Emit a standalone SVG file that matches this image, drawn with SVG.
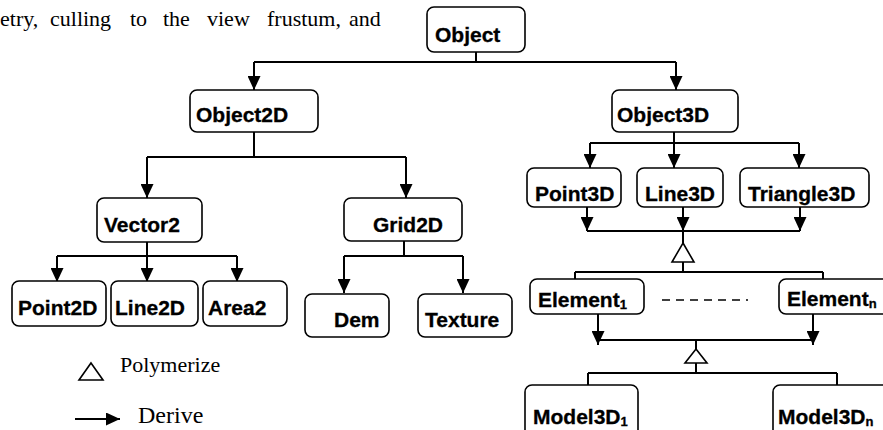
<svg xmlns="http://www.w3.org/2000/svg" width="883" height="430" viewBox="0 0 883 430">
<style>
.box{fill:#fff;stroke:#000;stroke-width:1.6}
.lbl{font-family:"Liberation Sans",Arial,sans-serif;font-weight:bold;font-size:21px;fill:#000;stroke:#000;stroke-width:0.3}
.sub{font-size:13px}
.ln{fill:none;stroke:#000;stroke-width:2}
.arr{fill:none;stroke:#000;stroke-width:2;marker-end:url(#ah)}
.tri{fill:#fff;stroke:#000;stroke-width:1.6}
.serif{font-family:"Liberation Serif","Times New Roman",serif;fill:#000}
</style>
<defs>
<marker id="ah" markerUnits="userSpaceOnUse" markerWidth="14" markerHeight="13" refX="14" refY="6.5" orient="auto">
<path d="M0,0 L14,6.5 L0,13 z" fill="#000"/>
</marker>
</defs>
<rect width="883" height="430" fill="#fff"/>
<text class="serif" font-size="22" y="26"><tspan x="0">etry,</tspan><tspan x="50">culling</tspan><tspan x="130">to</tspan><tspan x="163">the</tspan><tspan x="207">view</tspan><tspan x="267">frustum,</tspan><tspan x="349">and</tspan></text>
<g id="connectors">
<path class="ln" d="M476,52 V62 M254,62 H676"/>
<line class="arr" x1="254" y1="62" x2="254" y2="90"/>
<line class="arr" x1="676" y1="62" x2="676" y2="90"/>
<path class="ln" d="M254,132 V157 M147,157 H406"/>
<line class="arr" x1="147" y1="157" x2="147" y2="198"/>
<line class="arr" x1="406" y1="157" x2="406" y2="198"/>
<path class="ln" d="M147,242 V256 M57,256 H237"/>
<line class="arr" x1="57" y1="256" x2="57" y2="282"/>
<line class="arr" x1="147" y1="256" x2="147" y2="282"/>
<line class="arr" x1="237" y1="256" x2="237" y2="282"/>
<path class="ln" d="M404,241 V256 M344,256 H463"/>
<line class="arr" x1="344" y1="256" x2="344" y2="293"/>
<line class="arr" x1="463" y1="256" x2="463" y2="293"/>
<path class="ln" d="M674,132 V143 M590,143 H799"/>
<line class="arr" x1="590" y1="143" x2="590" y2="168"/>
<line class="arr" x1="674" y1="143" x2="674" y2="168"/>
<line class="arr" x1="799" y1="143" x2="799" y2="168"/>
<line class="arr" x1="587" y1="207" x2="587" y2="231"/>
<line class="arr" x1="683" y1="207" x2="683" y2="231"/>
<line class="arr" x1="800" y1="207" x2="800" y2="231"/>
<path class="ln" d="M587,231 H800 M683,231 V243"/>
<polygon class="tri" points="683,243 694,262 672,262"/>
<path class="ln" d="M683,262 V272 M575,272 H823 M575,272 V279 M823,272 V279"/>
<line x1="662" y1="300" x2="748" y2="300" stroke="#000" stroke-width="1.6" stroke-dasharray="8,6"/>
<line class="arr" x1="598" y1="314" x2="598" y2="345"/>
<line class="arr" x1="813" y1="314" x2="813" y2="345"/>
<path class="ln" d="M598,340 H813 M696,340 V349"/>
<polygon class="tri" points="696,349 707,363 685,363"/>
<path class="ln" d="M696,363 V373 M588,373 H837 M588,373 V385 M837,373 V385"/>
</g>
<g id="node-object"><rect class="box" x="427" y="7" width="98" height="45" rx="7"/><text class="lbl" x="435" y="42">Object</text></g>
<g id="node-object2d"><rect class="box" x="190" y="90" width="128" height="42" rx="7"/><text class="lbl" x="196" y="122">Object2D</text></g>
<g id="node-object3d"><rect class="box" x="612" y="90" width="126" height="42" rx="7"/><text class="lbl" x="617" y="122">Object3D</text></g>
<g id="node-vector2"><rect class="box" x="97" y="198" width="105" height="44" rx="7"/><text class="lbl" x="104" y="232">Vector2</text></g>
<g id="node-grid2d"><rect class="box" x="344" y="198" width="118" height="43" rx="7"/><text class="lbl" x="373" y="232">Grid2D</text></g>
<g id="node-point2d"><rect class="box" x="12" y="281" width="94" height="45" rx="7"/><text class="lbl" x="18" y="315">Point2D</text></g>
<g id="node-line2d"><rect class="box" x="111" y="281" width="87" height="45" rx="7"/><text class="lbl" x="115" y="315">Line2D</text></g>
<g id="node-area2"><rect class="box" x="203" y="281" width="84" height="45" rx="7"/><text class="lbl" x="208" y="315">Area2</text></g>
<g id="node-dem"><rect class="box" x="305" y="294" width="84" height="43" rx="7"/><text class="lbl" x="334" y="327">Dem</text></g>
<g id="node-texture"><rect class="box" x="418" y="294" width="94" height="43" rx="7"/><text class="lbl" x="425" y="327">Texture</text></g>
<g id="node-point3d"><rect class="box" x="527" y="168" width="94" height="39" rx="7"/><text class="lbl" x="535" y="201">Point3D</text></g>
<g id="node-line3d"><rect class="box" x="637" y="168" width="86" height="39" rx="7"/><text class="lbl" x="645" y="201">Line3D</text></g>
<g id="node-triangle3d"><rect class="box" x="740" y="168" width="129" height="39" rx="7"/><text class="lbl" x="748" y="201">Triangle3D</text></g>
<g id="node-element1"><rect class="box" x="530" y="279" width="114" height="35" rx="7"/><text class="lbl" x="538" y="307">Element<tspan class="sub" dy="2">1</tspan></text></g>
<g id="node-elementn"><rect class="box" x="779" y="279" width="120" height="35" rx="7"/><text class="lbl" x="787" y="306">Element<tspan class="sub" dy="2">n</tspan></text></g>
<g id="node-model3d1"><rect class="box" x="525" y="385" width="113" height="60" rx="7"/><text class="lbl" x="533" y="424">Model3D<tspan class="sub" dy="2">1</tspan></text></g>
<g id="node-model3dn"><rect class="box" x="773" y="385" width="120" height="60" rx="7"/><text class="lbl" x="778" y="424">Model3D<tspan class="sub" dy="2">n</tspan></text></g>
<g id="legend">
<polygon class="tri" points="91,363 103,380 79,380"/>
<text class="serif" font-size="22" x="120" y="372">Polymerize</text>
<line class="arr" x1="75" y1="419" x2="120" y2="419"/>
<text class="serif" font-size="24" x="138" y="423">Derive</text>
</g>
</svg>
